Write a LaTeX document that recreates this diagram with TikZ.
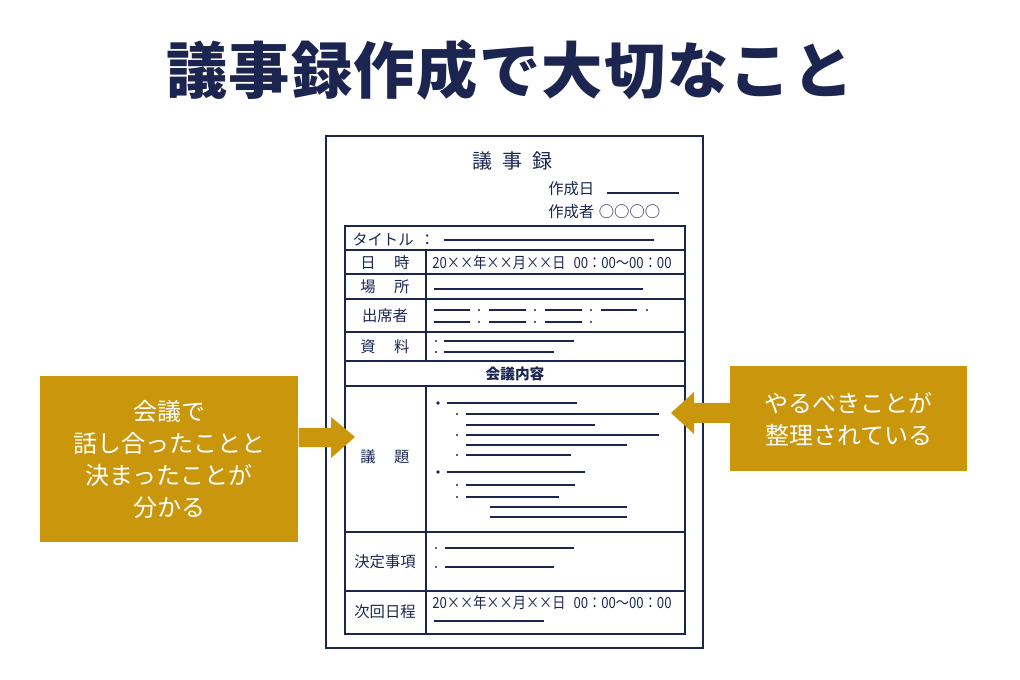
\documentclass[tikz,border=0pt]{standalone}
\usepackage{fontspec}
\newfontfamily\cjk{Noto Sans CJK JP}
\definecolor{navy}{HTML}{1B2550}
\definecolor{gold}{HTML}{C9960C}
\begin{document}
\begin{tikzpicture}[x=0.75pt,y=-0.75pt,font=\cjk,
  frm/.style={draw=navy,line width=1.3pt},
  ln/.style={draw=navy,line width=0.9pt},
  ft/.style={text=navy,font=\cjk\fontsize{11.5}{13}\selectfont,inner sep=0pt},
  gbox/.style={fill=gold,text=white,align=center,font=\cjk\fontsize{18}{24}\selectfont}]
\useasboundingbox (0,0) rectangle (1020,680);
\node[text=navy,font=\cjk\bfseries\fontsize{46}{50}\selectfont] (title) at (510,70) {議\kern1pt事\kern1pt録\kern1pt作\kern1pt成\kern1pt で\kern1pt大\kern1pt切\kern1pt な\kern1pt こ\kern1pt と};
% sheet
\draw[navy,line width=1pt] (326,136) rectangle (703,648);
\node[ft,font=\cjk\fontsize{15}{16}\selectfont] (h) at (512,161) {議\hspace{0.5em}事\hspace{0.5em}録};
\node[ft,anchor=west] (d1) at (548,189) {作成日};
\draw[ln] (607,193) -- (679,193);
\node[ft,anchor=west] (d2) at (548,212) {作成者\hspace{0.3em}○○○○};
% table
\draw[frm] (345,226) rectangle (685,634);
\foreach \y in {250,274,299,332,386,532,591} \draw[ln] (345,\y) -- (685,\y);
\draw[navy,line width=2pt] (345,361) -- (685,361);
\draw[ln] (426,250) -- (426,361);
\draw[ln] (426,386) -- (426,634);
\node[ft,anchor=west] (t1) at (352,240) {タイトル\hspace{0.4em}：};
\draw[ln] (444,240) -- (654,240);
\node[ft] (r1) at (385,263) {日\hspace{1.2em}時};
\node[ft,anchor=west] (v1) at (432,263) {\scalebox{0.86}[1]{20××年××月××日\hspace{0.6em}00：00〜00：00}};
\node[ft] (r2) at (385,287) {場\hspace{1.2em}所};
\draw[ln] (434,289) -- (643,289);
\node[ft] (r3) at (385,316) {出席者};
\foreach \a/\b in {434/470,489/526,545/582,601/637} \draw[ln] (\a,310) -- (\b,310);
\foreach \a/\b in {434/470,489/526,545/582} \draw[ln] (\a,322) -- (\b,322);
\foreach \x in {479,535,591,647} \fill[navy] (\x,310) circle (1.2);
\foreach \x in {479,535,591} \fill[navy] (\x,322) circle (1.2);
\node[ft] (r4) at (385,347) {資\hspace{1.2em}料};
\foreach \y/\b in {341/574,352/554} {\fill[navy] (436,\y) circle (1.2); \draw[ln] (444,\y) -- (\b,\y);}
\node[ft,font=\cjk\bfseries\fontsize{11}{12}\selectfont] (kn) at (515,374) {会議内容};
\node[ft] (r5) at (385,457) {議\hspace{1.2em}題};
\foreach \y/\b in {403/577,472/585} {\fill[navy] (438,\y) circle (1.8); \draw[ln] (447,\y) -- (\b,\y);}
\foreach \y in {414,435,455,485,497} \fill[navy] (457,\y) circle (1.2);
\foreach \y/\b in {414/659,425/595,435/659,445/627,455/571,485/575,497/559} \draw[ln] (466,\y) -- (\b,\y);
\foreach \y in {507,517} \draw[ln] (490,\y) -- (627,\y);
\node[ft] (r6) at (385,562) {決定事項};
\foreach \y/\b in {548/574,567/554} {\fill[navy] (436,\y) circle (1.2); \draw[ln] (445,\y) -- (\b,\y);}
\node[ft] (r7) at (385,612) {次回日程};
\node[ft,anchor=west] (v7) at (432,603) {\scalebox{0.86}[1]{20××年××月××日\hspace{0.6em}00：00〜00：00}};
\draw[ln] (434,621) -- (544,621);
% boxes
\node[gbox,minimum width=258*0.75pt,minimum height=166*0.75pt,anchor=north west] (lb) at (40,376) {会議で\\話し合ったことと\\決まったことが\\分かる};
\fill[gold] (lb.east |- 0,428) -- (331,428) -- (331,417) -- (355,437) -- (331,458) -- (331,447) -- (lb.east |- 0,447) -- cycle;
\node[gbox,minimum width=237*0.75pt,minimum height=105*0.75pt,anchor=north west] (rb) at (730,366) {やるべきことが\\整理されている};
\fill[gold] (rb.west |- 0,403) -- (694,403) -- (694,392) -- (671,413) -- (694,434) -- (694,423) -- (rb.west |- 0,423) -- cycle;
\end{tikzpicture}
\end{document}
